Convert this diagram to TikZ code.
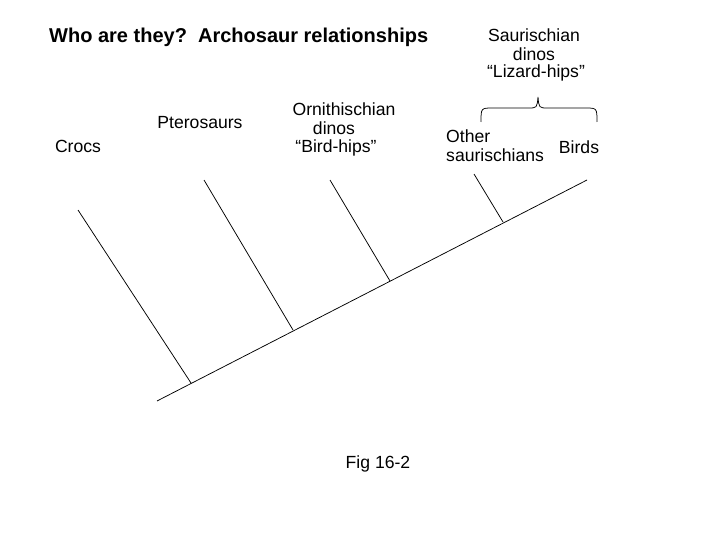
\documentclass[tikz,border=0pt]{standalone}
\usepackage{fontspec}
\setmainfont{Liberation Sans}
\begin{document}
\begin{tikzpicture}[x=1pt,y=-1pt,
  lbl/.style={inner sep=0pt, font=\fontsize{17.6}{20}\selectfont},
  ttl/.style={inner sep=0pt, font=\fontsize{20}{24}\selectfont\bfseries},
  branch/.style={draw=black, line width=0.75pt}]
\useasboundingbox (0,0) rectangle (720,540);
% title
\node[ttl, anchor=west] (title) at (49,37) {Who are they?\ \ Archosaur relationships};
% tree coordinates
\coordinate (root) at (157,401);
\coordinate (top) at (587,180);
\coordinate (j1) at (191,383);
\coordinate (t1) at (78,210);
\coordinate (j2) at (293,330);
\coordinate (t2) at (204,180);
\coordinate (j3) at (390,281);
\coordinate (t3) at (330,180);
\coordinate (j4) at (503,222);
\coordinate (t4) at (474,174);
\draw[branch] (root) -- (top);
\draw[branch] (j1) -- (t1);
\draw[branch] (j2) -- (t2);
\draw[branch] (j3) -- (t3);
\draw[branch] (j4) -- (t4);
% labels
\node[lbl] (crocs) at (78,146) {Crocs};
\node[lbl] (ptero) at (200,123) {Pterosaurs};
\node[lbl] (orn1) at (344,109) {Ornithischian};
\node[lbl] (orn2) at (334,128) {dinos};
\node[lbl] (orn3) at (336,148) {“Bird-hips”};
\node[lbl] (sau1) at (534,35) {Saurischian};
\node[lbl] (sau2) at (534,54) {dinos};
\node[lbl] (sau3) at (536,73) {“Lizard-hips”};
\node[lbl, anchor=west] (oth1) at (446,136) {Other};
\node[lbl, anchor=west] (oth2) at (446,155) {saurischians};
\node[lbl] (birds) at (579,147) {Birds};
\node[lbl] (fig) at (378,464) {Fig 16-2};
% brace
\coordinate (bl) at (481,122);
\coordinate (bm) at (538,97);
\coordinate (br) at (597,122);
\draw[branch] (bl) .. controls (481,108) .. (493,108) -- (528,108)
  .. controls (537,108) .. (bm) .. controls (539,108) .. (548,108) -- (585,108)
  .. controls (597,108) .. (br);
\end{tikzpicture}
\end{document}
